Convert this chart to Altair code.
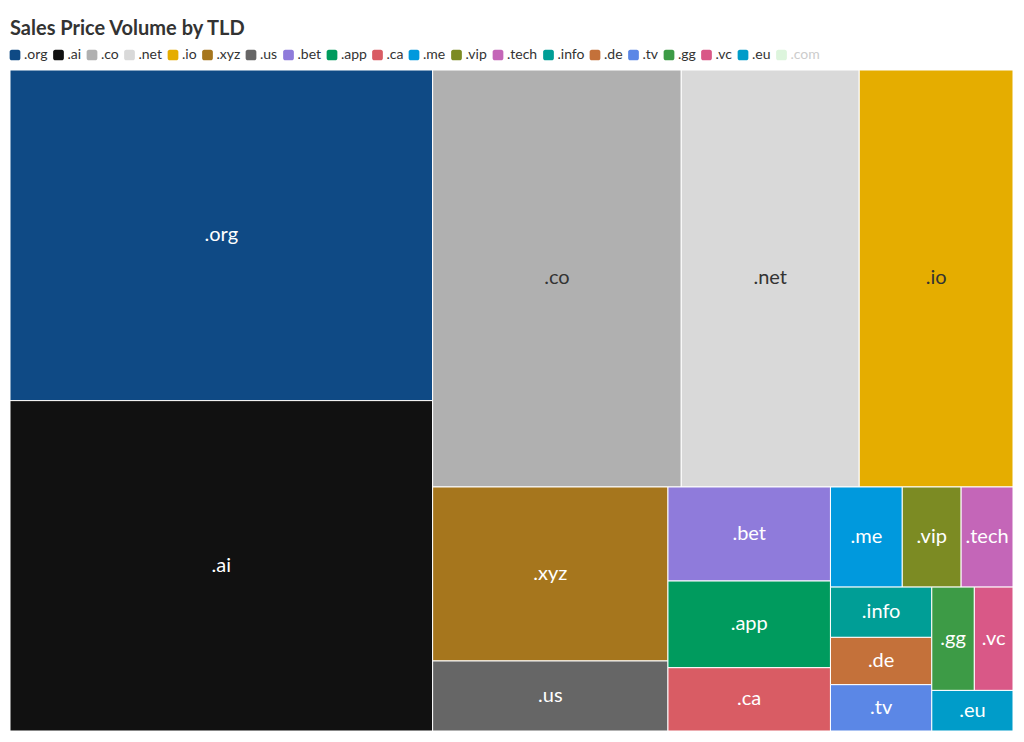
import altair as alt
import pandas as pd

# ---- data (values read from tile areas) ----
tlds = [".org", ".ai", ".co", ".net", ".io", ".xyz", ".us", ".bet", ".app", ".ca",
        ".me", ".vip", ".tech", ".info", ".de", ".tv", ".gg", ".vc", ".eu"]
volume = [1399, 1398, 1038, 743, 642, 410, 165, 153, 141, 103,
          72, 59, 52, 51, 48, 47, 44, 40, 33]
legend_tlds = tlds + [".com"]
palette = ["#0f4a85", "#111111", "#b0b0b0", "#d9d9d9", "#e5ad00", "#a6761d", "#666666",
           "#8f7bdb", "#009b5e", "#d95c64", "#0099dd", "#7c8b23", "#c466b8", "#009e96",
           "#c4713a", "#5b87e6", "#3d9b46", "#d95887", "#009cc9", "#ddf5dd"]

W, H = 1003, 661
PHI = (1 + 5 ** 0.5) / 2


def squarify(values, x0, y0, x1, y1, ratio=PHI):
    rects = []
    n = len(values)
    i0 = i1 = 0
    total = float(sum(values))
    while i0 < n:
        dx, dy = x1 - x0, y1 - y0
        s = values[i1]
        i1 += 1
        mn = mx = s
        alpha = max(dy / dx, dx / dy) / (total * ratio)
        beta = s * s * alpha
        min_ratio = max(mx / beta, beta / mn)
        while i1 < n:
            v = values[i1]
            s2 = s + v
            mn2, mx2 = min(mn, v), max(mx, v)
            beta = s2 * s2 * alpha
            nr = max(mx2 / beta, beta / mn2)
            if nr > min_ratio:
                break
            s, mn, mx, min_ratio = s2, mn2, mx2, nr
            i1 += 1
        row = values[i0:i1]
        if dx < dy:
            yb = y0 + dy * s / total
            cx = x0
            for v in row:
                w = dx * v / s
                rects.append((cx, y0, cx + w, yb))
                cx += w
            y0 = yb
        else:
            xb = x0 + dx * s / total
            cy = y0
            for v in row:
                h = dy * v / s
                rects.append((x0, cy, xb, cy + h))
                cy += h
            x0 = xb
        total -= s
        i0 = i1
    return rects


def luminance(hexcol):
    c = [int(hexcol[i:i + 2], 16) / 255 for i in (1, 3, 5)]
    lin = [v / 12.92 if v <= 0.03928 else ((v + 0.055) / 1.055) ** 2.4 for v in c]
    return 0.2126 * lin[0] + 0.7152 * lin[1] + 0.0722 * lin[2]


rects = squarify(volume, 0, 0, W, H)
df = pd.DataFrame({
    "tld": tlds,
    "volume": volume,
    "x0": [r[0] for r in rects], "y0": [r[1] for r in rects],
    "x1": [r[2] for r in rects], "y1": [r[3] for r in rects],
})
df["cx"] = (df.x0 + df.x1) / 2
df["cy"] = (df.y0 + df.y1) / 2
df["dark"] = [1 if luminance(palette[i]) > 0.4 else 0 for i in range(len(tlds))]

xs = alt.Scale(domain=[0, W], nice=False, zero=False)
ys = alt.Scale(domain=[0, H], nice=False, zero=False, reverse=True)

rounded = "M-0.6,-1H0.6A0.4,0.4,0,0,1,1,-0.6V0.6A0.4,0.4,0,0,1,0.6,1H-0.6A0.4,0.4,0,0,1,-1,0.6V-0.6A0.4,0.4,0,0,1,-0.6,-1Z"

tiles = alt.Chart(df).mark_rect(stroke="white", strokeWidth=1).encode(
    x=alt.X("x0:Q", scale=xs, axis=None),
    x2="x1:Q",
    y=alt.Y("y0:Q", scale=ys, axis=None),
    y2="y1:Q",
    color=alt.Color(
        "tld:N",
        scale=alt.Scale(domain=legend_tlds, range=palette),
        legend=alt.Legend(
            title=None, orient="none", legendX=-2, legendY=-22, direction="horizontal",
            labelFont="Lato", labelFontSize=14, padding=0,
            labelColor=alt.ExprRef(expr="datum.label == '.com' ? '#cccccc' : '#333333'"),
            symbolType=rounded, symbolSize=115, symbolStrokeWidth=0, symbolOpacity=1,
            labelOffset=2, columnPadding=3.5,
        ),
    ),
    tooltip=["tld:N", "volume:Q"],
)

labels = alt.Chart(df).mark_text(font="Lato", fontSize=20, baseline="middle", align="center").encode(
    x=alt.X("cx:Q", scale=xs, axis=None),
    y=alt.Y("cy:Q", scale=ys, axis=None),
    text="tld:N",
    color=alt.condition("datum.dark == 1", alt.value("#333333"), alt.value("#ffffff")),
)

chart = (tiles + labels).properties(
    width=W, height=H,
    autosize=alt.AutoSizeParams(type="none"),
    padding={"left": 2, "top": 62, "right": 0, "bottom": 0},
    title=alt.TitleParams("Sales Price Volume by TLD", anchor="start", font="Lato",
                          fontSize=20, fontWeight="bold", color="#333333", offset=9, dx=2),
).configure_view(stroke=None)

chart.save("out.html", embed_options={"renderer": "svg", "actions": False})
